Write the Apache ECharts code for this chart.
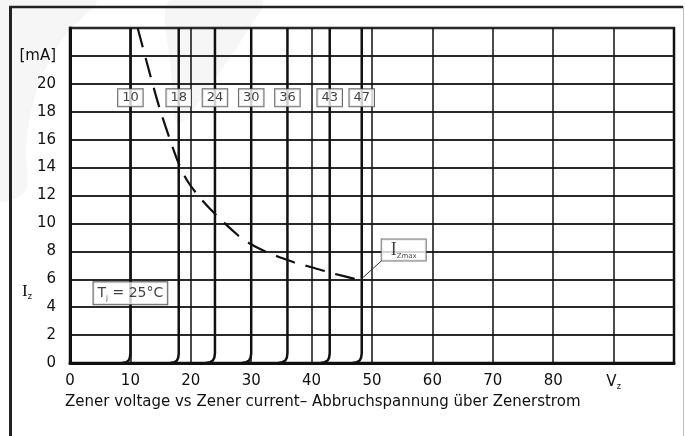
<!DOCTYPE html>
<html><head><meta charset="utf-8">
<script src="https://cdn.jsdelivr.net/npm/echarts/dist/echarts.min.js"></script>
<style>html,body{margin:0;padding:0;background:#fff}#c{width:685px;height:436px}</style>
</head><body><div id="c"></div><script>
// ---- data ----
const xTickLabels = ['0','10','20','30','40','50','60','70','80','Vz',''];
const yTickLabels = ['0','2','4','6','8','10','12','14','16','18','20','[mA]',''];
const zenerNames = ['10','18','24','30','36','43','47'];
const zenerV = [10, 18, 24, 30, 36, 43, 48.3];
const labelI = 19;
const curve10 = [[8.6,0],[9.3,0.06],[9.7,0.18],[9.9,0.36],[10,0.65],[10,24]];
const curve18 = [[16.6,0],[17.3,0.06],[17.7,0.18],[17.9,0.36],[18,0.65],[18,24]];
const curve24 = [[22.5,0],[23.2,0.06],[23.65,0.18],[23.9,0.38],[24,0.7],[24,24]];
const curve30 = [[28.5,0],[29.2,0.06],[29.65,0.18],[29.9,0.38],[30,0.7],[30,24]];
const curve36 = [[34.5,0],[35.2,0.06],[35.65,0.18],[35.9,0.38],[36,0.7],[36,24]];
const curve43 = [[41.5,0],[42.2,0.06],[42.65,0.18],[42.9,0.38],[43,0.7],[43,24]];
const curve47 = [[46.8,0],[47.5,0.06],[47.95,0.18],[48.2,0.38],[48.3,0.7],[48.3,24]];
const izmaxV = [11.2, 13.3, 14.8, 16.4, 18.0, 19.5, 21.6, 24.2, 27.8, 29.6, 32.5, 34.6, 37.5, 39.7, 43.3, 48.0];
const izmaxI = [24.0, 20.6, 18.3, 16.2, 14.3, 13.0, 11.8, 10.6, 9.15, 8.6, 7.95, 7.6, 7.15, 6.9, 6.45, 5.93];
const tjPos = [10, 5];
const izmaxLabelPos = [55.25, 8.1];
const leaderLine = [[51.6, 7.33], [48.0, 5.93]];

// ---- chart ----
const FONT = 'DejaVu Sans';
const chart = echarts.init(document.getElementById('c'), null, {renderer: 'canvas'});
const curves = [curve10, curve18, curve24, curve30, curve36, curve43, curve47];
const series = curves.map(c => ({
  type: 'line', data: c, symbol: 'none', silent: true, z: 3,
  lineStyle: {color: '#111', width: 2.5}
}));
series.push({
  type: 'line', data: izmaxV.map((v, i) => [v, izmaxI[i]]), symbol: 'none', smooth: 0.3, silent: true, z: 4,
  lineStyle: {color: '#111', width: 2.2, type: [20, 11]}
});
series.push({
  type: 'line', data: leaderLine, symbol: 'none', silent: true, z: 4,
  lineStyle: {color: '#333', width: 1}
});
series.push({
  type: 'scatter', symbolSize: 1, silent: true, z: 6,
  itemStyle: {color: 'transparent'},
  data: zenerNames.map((n, i) => ({name: n, value: [zenerV[i], labelI]})),
  label: {
    show: true, position: 'inside', formatter: p => p.name,
    fontFamily: FONT, fontSize: 13, color: '#111', lineHeight: 14,
    backgroundColor: '#fff', borderColor: '#444', borderWidth: 1, padding: [2, 4, 1, 4]
  }
});
series.push({
  type: 'scatter', symbolSize: 1, silent: true, z: 6,
  itemStyle: {color: 'transparent'},
  data: [{value: tjPos}],
  label: {
    show: true, position: 'inside', formatter: '{t|T}{s|j}{t| = 25°C}',
    backgroundColor: '#fff', borderColor: '#333', borderWidth: 1, padding: [3, 4, 3, 4],
    rich: {
      t: {fontFamily: FONT, fontSize: 14, color: '#111', lineHeight: 16},
      s: {fontFamily: FONT, fontSize: 7, color: '#111', verticalAlign: 'bottom', lineHeight: 9}
    }
  }
});
series.push({
  type: 'scatter', symbolSize: 1, silent: true, z: 6,
  itemStyle: {color: 'transparent'},
  data: [{value: izmaxLabelPos}],
  label: {
    show: true, position: 'inside', formatter: '{i|I}{s|Zmax}',
    backgroundColor: '#fff', borderColor: '#555', borderWidth: 1, padding: [1, 9, 1, 9],
    rich: {
      i: {fontFamily: 'Liberation Serif', fontSize: 18, color: '#111', lineHeight: 19},
      s: {fontFamily: FONT, fontSize: 7, color: '#222', verticalAlign: 'bottom', lineHeight: 10}
    }
  }
});

chart.setOption({
  animation: false,
  backgroundColor: '#fff',
  textStyle: {fontFamily: FONT},
  grid: {left: 70, right: 11, top: 28, bottom: 73, show: true, borderColor: '#111', borderWidth: 2.5, backgroundColor: 'transparent'},
  xAxis: {
    type: 'value', min: 0, max: 100, interval: 10,
    axisLine: {show: true, onZero: false, lineStyle: {color: '#111', width: 3}},
    axisTick: {show: false},
    splitLine: {show: true, lineStyle: {color: '#111', width: 1.5}},
    axisLabel: {
      margin: 11, fontSize: 15, color: '#111', fontFamily: FONT,
      formatter: v => { const s = xTickLabels[Math.round(v / 10)]; return s === 'Vz' ? '{v|V}{s|z}' : s; },
      rich: {
        v: {fontFamily: FONT, fontSize: 15, color: '#111', lineHeight: 17},
        s: {fontFamily: FONT, fontSize: 8, color: '#111', verticalAlign: 'bottom', lineHeight: 10}
      }
    }
  },
  yAxis: {
    type: 'value', min: 0, max: 24, interval: 2,
    axisLine: {show: true, onZero: false, lineStyle: {color: '#111', width: 3}},
    axisTick: {show: false},
    splitLine: {show: true, lineStyle: {color: '#2a2a2a', width: 2}},
    axisLabel: {
      margin: 14, fontSize: 15, color: '#111', fontFamily: FONT,
      formatter: v => yTickLabels[Math.round(v / 2)]
    }
  },
  graphic: [
    // faint watermark
    {type: 'polygon', silent: true, z: -10, shape: {smooth: 0.3, points: [[0,0],[96,0],[66,34],[44,72],[31,112],[26,152],[26,190],[0,200]]}, style: {fill: '#f6f6f6'}},
    {type: 'polygon', silent: true, z: -10, shape: {smooth: 0.3, points: [[170,0],[262,0],[244,36],[214,80],[178,124],[171,70]]}, style: {fill: '#f6f6f6'}},
    // outer frame
    {type: 'line', silent: true, shape: {x1: 9, y1: 7, x2: 683, y2: 7}, style: {stroke: '#222', lineWidth: 2.5}},
    {type: 'line', silent: true, shape: {x1: 10.5, y1: 6, x2: 10.5, y2: 436}, style: {stroke: '#222', lineWidth: 3}},
    {type: 'line', silent: true, shape: {x1: 683.5, y1: 6, x2: 683.5, y2: 436}, style: {stroke: '#bbb', lineWidth: 1}},
    // axis names
    {type: 'text', left: 65, top: 395, silent: true,
     style: {text: 'Zener voltage vs Zener current– Abbruchspannung über Zenerstrom', fontFamily: FONT, fontSize: 15, fill: '#111'}},
    {type: 'text', left: 22, top: 283, silent: true,
     style: {text: '{i|I}{s|z}', rich: {
       i: {fontFamily: 'Liberation Serif', fontSize: 17, fill: '#111', lineHeight: 18},
       s: {fontFamily: FONT, fontSize: 8, fill: '#111', verticalAlign: 'bottom', lineHeight: 10}
     }}}
  ],
  series: series
});
</script></body></html>
